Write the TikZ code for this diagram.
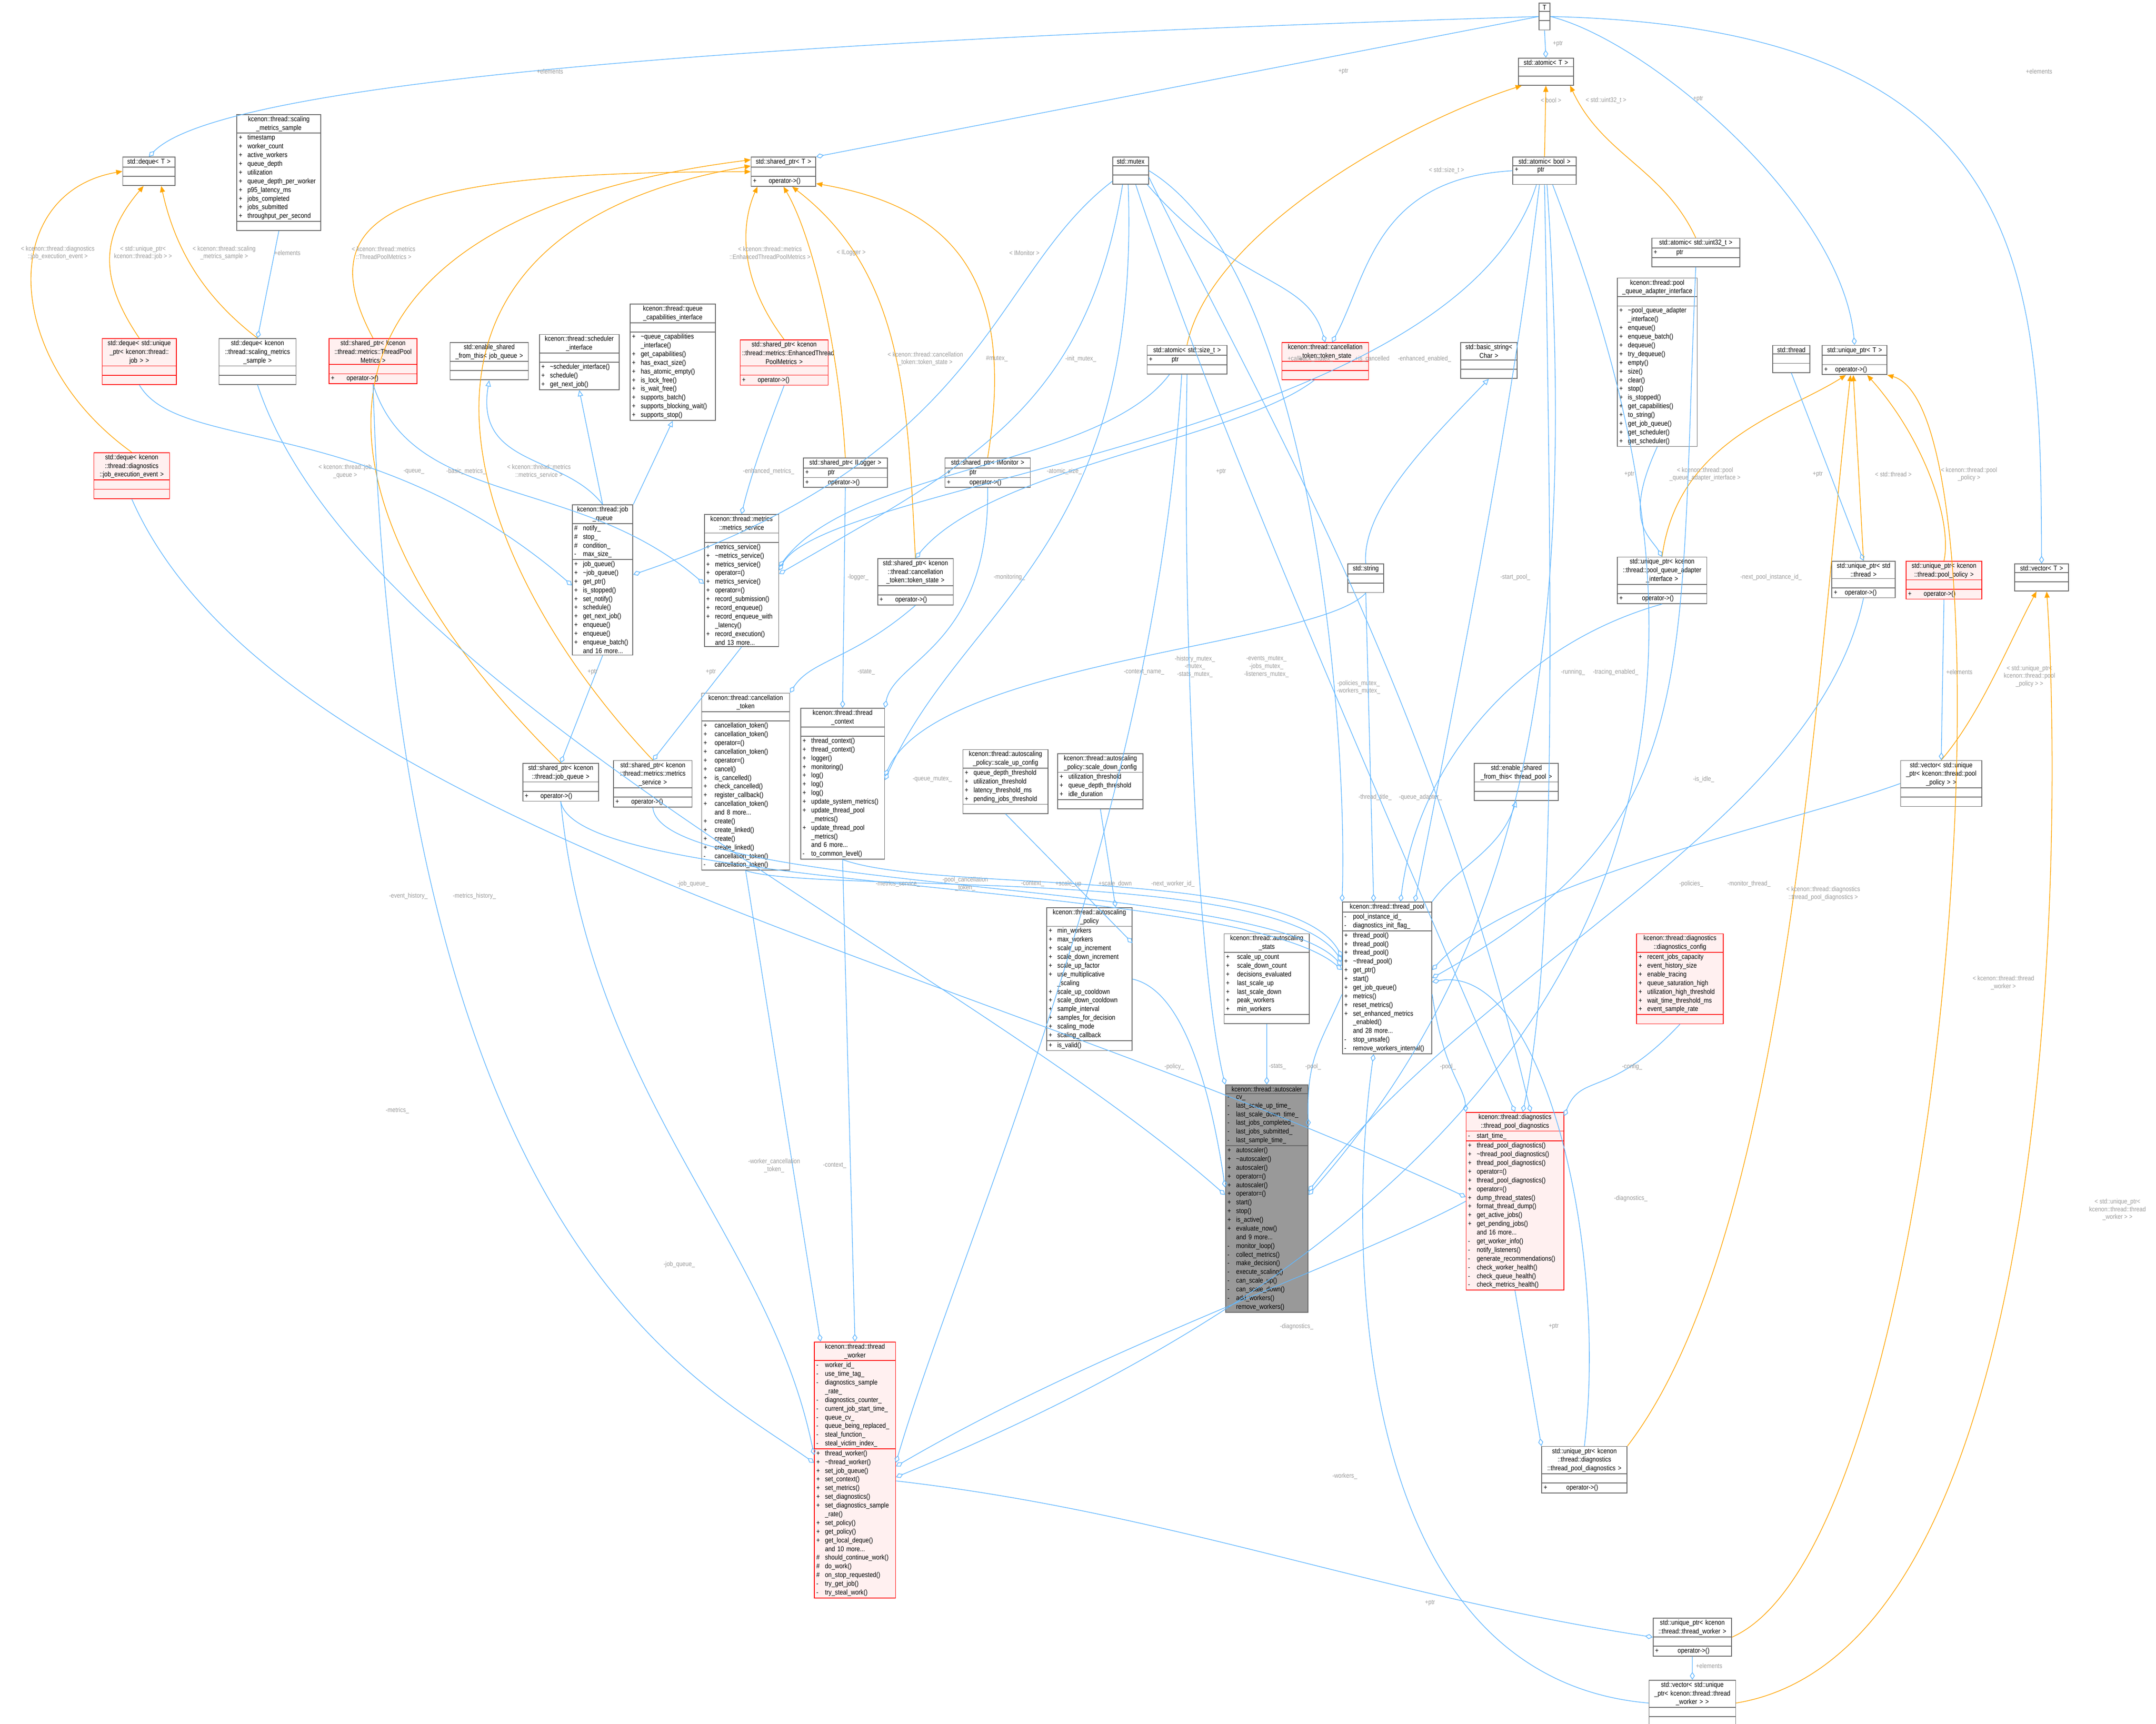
\documentclass[tikz,border=0pt]{standalone}
\usepackage{fontspec}
\setmainfont{Liberation Sans}[FakeStretch=0.86]
\usetikzlibrary{shapes.multipart,arrows.meta}
\definecolor{eb}{HTML}{63B8FF}
\definecolor{eo}{HTML}{FFA500}
\definecolor{lg}{HTML}{9A9A9A}
\definecolor{bd}{HTML}{666666}
\definecolor{rf}{HTML}{FFF0F0}
\newcommand\E{\rule{0pt}{3pt}}
\newcommand\m[2]{\makebox[4.5pt][l]{#1}#2}
\newcommand\ct[1]{\hspace*{4.5pt}#1}
\newcommand\cls[7]{\pgfmathsetmacro\tw{#4*0.025-0.07}%
\node[cls,#1,text width=\tw cm] (#2) at (#3) {\centering #5\par\nodepart{two}#6\par\nodepart{three}#7\par};}
\tikzset{
 x=0.025cm,y=-0.025cm,
 cls/.style={rectangle split,rectangle split parts=3,draw=bd,line width=0.4pt,anchor=north west,
   inner xsep=1pt,inner ysep=0.7pt,font=\fontsize{3.6}{4.5}\selectfont,align=left,fill=white},
 red/.style={draw=red,fill=rf},
 gry/.style={fill=black!40!white},
 agg/.style={draw=eb,line width=0.35pt,-{Diamond[open,length=4pt,width=2.6pt]}},
 tmpl/.style={draw=eo,line width=0.35pt,-{Triangle[length=3.2pt,width=2.6pt]}},
 inh/.style={draw=eb,line width=0.35pt,-{Triangle[open,length=3.2pt,width=2.8pt]}},
 lbl/.style={text=lg,font=\fontsize{3.4}{4}\selectfont,align=center,inner sep=0pt},
}
\begin{document}
\begin{tikzpicture}
\useasboundingbox[fill=white] (0,0) rectangle (1568,1254.2);
% ---------- nodes ----------
\cls{}{T}{1119,2}{8}{T}{\E}{\E}
\cls{}{at}{1104,42}{40}{std::atomic< T >}{\E}{\E}
\cls{}{sp}{546,114}{47}{std::shared\_ptr< T >}{\E}{\m{+}{\quad operator->()}}
\cls{}{mx}{809,114}{26}{std::mutex}{\E}{\E}
\cls{}{ab}{1100,114}{46}{std::atomic< bool >}{\m{+}{\qquad ptr}}{\E}
\cls{}{dq}{89,114}{38}{std::deque< T >}{\E}{\E}
\cls{}{sms}{172,83}{61}{kcenon::thread::scaling\\\_metrics\_sample}{\m{+}{timestamp}\\\m{+}{worker\_count}\\\m{+}{active\_workers}\\\m{+}{queue\_depth}\\\m{+}{utilization}\\\m{+}{queue\_depth\_per\_worker}\\\m{+}{p95\_latency\_ms}\\\m{+}{jobs\_completed}\\\m{+}{jobs\_submitted}\\\m{+}{throughput\_per\_second}}{\E}
\cls{}{au32}{1201,173}{64}{std::atomic< std::uint32\_t >}{\m{+}{\qquad ptr}}{\E}
\cls{}{pqai}{1176,202}{58}{kcenon::thread::pool\\\_queue\_adapter\_interface}{\E}{\m{+}{\textasciitilde pool\_queue\_adapter}\\\ct{\_interface()}\\\m{+}{enqueue()}\\\m{+}{enqueue\_batch()}\\\m{+}{dequeue()}\\\m{+}{try\_dequeue()}\\\m{+}{empty()}\\\m{+}{size()}\\\m{+}{clear()}\\\m{+}{stop()}\\\m{+}{is\_stopped()}\\\m{+}{get\_capabilities()}\\\m{+}{to\_string()}\\\m{+}{get\_job\_queue()}\\\m{+}{get\_scheduler()}\\\m{+}{get\_scheduler()}}
\cls{red}{dqj}{74,246}{54}{std::deque< std::unique\\\_ptr< kcenon::thread::\\job > >}{\E}{\E}
\cls{}{dqs}{159,246}{56}{std::deque< kcenon\\::thread::scaling\_metrics\\\_sample >}{\E}{\E}
\cls{red}{sptpm}{239,246}{64}{std::shared\_ptr< kcenon\\::thread::metrics::ThreadPool\\Metrics >}{\E}{\m{+}{\quad operator->()}}
\cls{}{esj}{327,249}{57}{std::enable\_shared\\\_from\_this< job\_queue >}{\E}{\E}
\cls{}{sch}{392,243}{58}{kcenon::thread::scheduler\\\_interface}{\E}{\m{+}{\textasciitilde scheduler\_interface()}\\\m{+}{schedule()}\\\m{+}{get\_next\_job()}}
\cls{}{qc}{458,221}{62}{kcenon::thread::queue\\\_capabilities\_interface}{\E}{\m{+}{\textasciitilde queue\_capabilities}\\\ct{\_interface()}\\\m{+}{get\_capabilities()}\\\m{+}{has\_exact\_size()}\\\m{+}{has\_atomic\_empty()}\\\m{+}{is\_lock\_free()}\\\m{+}{is\_wait\_free()}\\\m{+}{supports\_batch()}\\\m{+}{supports\_blocking\_wait()}\\\m{+}{supports\_stop()}}
\cls{red}{spe}{538,247}{64}{std::shared\_ptr< kcenon\\::thread::metrics::EnhancedThread\\PoolMetrics >}{\E}{\m{+}{\quad operator->()}}
\cls{}{asz}{834,251}{58}{std::atomic< std::size\_t >}{\m{+}{\qquad ptr}}{\E}
\cls{red}{ts}{932,249}{63}{kcenon::thread::cancellation\\\_token::token\_state}{\E}{\E}
\cls{}{bs}{1062,249}{41}{std::basic\_string<\\Char >}{\E}{\E}
\cls{}{thr}{1289,251}{27}{std::thread}{\E}{\E}
\cls{}{up}{1325,251}{47}{std::unique\_ptr< T >}{\E}{\m{+}{\ operator->()}}
\cls{red}{dqe}{68,329}{55}{std::deque< kcenon\\::thread::diagnostics\\::job\_execution\_event >}{\E}{\E}
\cls{}{spl}{584,333}{61}{std::shared\_ptr< ILogger >}{\m{+}{\qquad ptr}}{\m{+}{\qquad operator->()}}
\cls{}{spm}{687,333}{62}{std::shared\_ptr< IMonitor >}{\m{+}{\qquad ptr}}{\m{+}{\qquad operator->()}}
\cls{}{jq}{416,367}{44}{kcenon::thread::job\\\_queue}{\m{\#}{notify\_}\\\m{\#}{stop\_}\\\m{\#}{condition\_}\\\m{-}{max\_size\_}}{\m{+}{job\_queue()}\\\m{+}{\textasciitilde job\_queue()}\\\m{+}{get\_ptr()}\\\m{+}{is\_stopped()}\\\m{+}{set\_notify()}\\\m{+}{schedule()}\\\m{+}{get\_next\_job()}\\\m{+}{enqueue()}\\\m{+}{enqueue()}\\\m{+}{enqueue\_batch()}\\\ct{and 16 more...}}
\cls{}{ms}{512,374}{54}{kcenon::thread::metrics\\::metrics\_service}{\E}{\m{+}{metrics\_service()}\\\m{+}{\textasciitilde metrics\_service()}\\\m{+}{metrics\_service()}\\\m{+}{operator=()}\\\m{+}{metrics\_service()}\\\m{+}{operator=()}\\\m{+}{record\_submission()}\\\m{+}{record\_enqueue()}\\\m{+}{record\_enqueue\_with}\\\ct{\_latency()}\\\m{+}{record\_execution()}\\\ct{and 13 more...}}
\cls{}{spts}{638,406}{55}{std::shared\_ptr< kcenon\\::thread::cancellation\\\_token::token\_state >}{\E}{\m{+}{\quad operator->()}}
\cls{}{str}{980,410}{26}{std::string}{\E}{\E}
\cls{}{uppq}{1176,405}{65}{std::unique\_ptr< kcenon\\::thread::pool\_queue\_adapter\\\_interface >}{\E}{\m{+}{\qquad operator->()}}
\cls{}{upth}{1332,408}{46}{std::unique\_ptr< std\\::thread >}{\E}{\m{+}{\ operator->()}}
\cls{red}{uppp}{1386,408}{55}{std::unique\_ptr< kcenon\\::thread::pool\_policy >}{\E}{\m{+}{\quad operator->()}}
\cls{}{vec}{1465,410}{39}{std::vector< T >}{\E}{\E}
\cls{}{ctk}{510,504}{64}{kcenon::thread::cancellation\\\_token}{\E}{\m{+}{\ cancellation\_token()}\\\m{+}{\ cancellation\_token()}\\\m{+}{\ operator=()}\\\m{+}{\ cancellation\_token()}\\\m{+}{\ operator=()}\\\m{+}{\ cancel()}\\\m{+}{\ is\_cancelled()}\\\m{+}{\ check\_cancelled()}\\\m{+}{\ register\_callback()}\\\m{+}{\ cancellation\_token()}\\\ct{\ and 8 more...}\\\m{+}{\ create()}\\\m{+}{\ create\_linked()}\\\m{+}{\ create()}\\\m{+}{\ create\_linked()}\\\m{-}{\ cancellation\_token()}\\\m{-}{\ cancellation\_token()}}
\cls{}{tc}{582,515}{61}{kcenon::thread::thread\\\_context}{\E}{\m{+}{thread\_context()}\\\m{+}{thread\_context()}\\\m{+}{logger()}\\\m{+}{monitoring()}\\\m{+}{log()}\\\m{+}{log()}\\\m{+}{log()}\\\m{+}{update\_system\_metrics()}\\\m{+}{update\_thread\_pool}\\\ct{\_metrics()}\\\m{+}{update\_thread\_pool}\\\ct{\_metrics()}\\\ct{and 6 more...}\\\m{-}{to\_common\_level()}}
\cls{}{suc}{700,545}{62}{kcenon::thread::autoscaling\\\_policy::scale\_up\_config}{\m{+}{queue\_depth\_threshold}\\\m{+}{utilization\_threshold}\\\m{+}{latency\_threshold\_ms}\\\m{+}{pending\_jobs\_threshold}}{\E}
\cls{}{sdc}{769,548}{62}{kcenon::thread::autoscaling\\\_policy::scale\_down\_config}{\m{+}{utilization\_threshold}\\\m{+}{queue\_depth\_threshold}\\\m{+}{idle\_duration}}{\E}
\cls{}{esp}{1072,555}{61}{std::enable\_shared\\\_from\_this< thread\_pool >}{\E}{\E}
\cls{}{spjq}{380,555}{55}{std::shared\_ptr< kcenon\\::thread::job\_queue >}{\E}{\m{+}{\quad operator->()}}
\cls{}{spms}{446,553}{57}{std::shared\_ptr< kcenon\\::thread::metrics::metrics\\\_service >}{\E}{\m{+}{\quad operator->()}}
\cls{}{vpp}{1382,553}{59}{std::vector< std::unique\\\_ptr< kcenon::thread::pool\\\_policy > >}{\E}{\E}
\cls{}{pol}{761,660}{62}{kcenon::thread::autoscaling\\\_policy}{\m{+}{min\_workers}\\\m{+}{max\_workers}\\\m{+}{scale\_up\_increment}\\\m{+}{scale\_down\_increment}\\\m{+}{scale\_up\_factor}\\\m{+}{use\_multiplicative}\\\ct{\_scaling}\\\m{+}{scale\_up\_cooldown}\\\m{+}{scale\_down\_cooldown}\\\m{+}{sample\_interval}\\\m{+}{samples\_for\_decision}\\\m{+}{scaling\_mode}\\\m{+}{scaling\_callback}}{\m{+}{is\_valid()}}
\cls{}{tp}{976,656}{65}{kcenon::thread::thread\_pool}{\m{-}{pool\_instance\_id\_}\\\m{-}{diagnostics\_init\_flag\_}}{\m{+}{thread\_pool()}\\\m{+}{thread\_pool()}\\\m{+}{thread\_pool()}\\\m{+}{\textasciitilde thread\_pool()}\\\m{+}{get\_ptr()}\\\m{+}{start()}\\\m{+}{get\_job\_queue()}\\\m{+}{metrics()}\\\m{+}{reset\_metrics()}\\\m{+}{set\_enhanced\_metrics}\\\ct{\_enabled()}\\\ct{and 28 more...}\\\m{-}{stop\_unsafe()}\\\m{-}{remove\_workers\_internal()}}
\cls{}{st}{890,679}{62}{kcenon::thread::autoscaling\\\_stats}{\m{+}{\ scale\_up\_count}\\\m{+}{\ scale\_down\_count}\\\m{+}{\ decisions\_evaluated}\\\m{+}{\ last\_scale\_up}\\\m{+}{\ last\_scale\_down}\\\m{+}{\ peak\_workers}\\\m{+}{\ min\_workers}}{\E}
\cls{red}{dc}{1190,679}{63}{kcenon::thread::diagnostics\\::diagnostics\_config}{\m{+}{recent\_jobs\_capacity}\\\m{+}{event\_history\_size}\\\m{+}{enable\_tracing}\\\m{+}{queue\_saturation\_high}\\\m{+}{utilization\_high\_threshold}\\\m{+}{wait\_time\_threshold\_ms}\\\m{+}{event\_sample\_rate}}{\E}
\cls{gry}{as}{891,789}{60}{kcenon::thread::autoscaler}{\m{-}{cv\_}\\\m{-}{last\_scale\_up\_time\_}\\\m{-}{last\_scale\_down\_time\_}\\\m{-}{last\_jobs\_completed\_}\\\m{-}{last\_jobs\_submitted\_}\\\m{-}{last\_sample\_time\_}}{\m{+}{autoscaler()}\\\m{+}{\textasciitilde autoscaler()}\\\m{+}{autoscaler()}\\\m{+}{operator=()}\\\m{+}{autoscaler()}\\\m{+}{operator=()}\\\m{+}{start()}\\\m{+}{stop()}\\\m{+}{is\_active()}\\\m{+}{evaluate\_now()}\\\ct{and 9 more...}\\\m{-}{monitor\_loop()}\\\m{-}{collect\_metrics()}\\\m{-}{make\_decision()}\\\m{-}{execute\_scaling()}\\\m{-}{can\_scale\_up()}\\\m{-}{can\_scale\_down()}\\\m{-}{add\_workers()}\\\m{-}{remove\_workers()}}
\cls{red}{tpd}{1066,809}{71}{kcenon::thread::diagnostics\\::thread\_pool\_diagnostics}{\m{-}{start\_time\_}}{\m{+}{thread\_pool\_diagnostics()}\\\m{+}{\textasciitilde thread\_pool\_diagnostics()}\\\m{+}{thread\_pool\_diagnostics()}\\\m{+}{operator=()}\\\m{+}{thread\_pool\_diagnostics()}\\\m{+}{operator=()}\\\m{+}{dump\_thread\_states()}\\\m{+}{format\_thread\_dump()}\\\m{+}{get\_active\_jobs()}\\\m{+}{get\_pending\_jobs()}\\\ct{and 16 more...}\\\m{-}{get\_worker\_info()}\\\m{-}{notify\_listeners()}\\\m{-}{generate\_recommendations()}\\\m{-}{check\_worker\_health()}\\\m{-}{check\_queue\_health()}\\\m{-}{check\_metrics\_health()}}
\cls{red}{tw}{592,976}{59}{kcenon::thread::thread\\\_worker}{\m{-}{worker\_id\_}\\\m{-}{use\_time\_tag\_}\\\m{-}{diagnostics\_sample}\\\ct{\_rate\_}\\\m{-}{diagnostics\_counter\_}\\\m{-}{current\_job\_start\_time\_}\\\m{-}{queue\_cv\_}\\\m{-}{queue\_being\_replaced\_}\\\m{-}{steal\_function\_}\\\m{-}{steal\_victim\_index\_}}{\m{+}{thread\_worker()}\\\m{+}{\textasciitilde thread\_worker()}\\\m{+}{set\_job\_queue()}\\\m{+}{set\_context()}\\\m{+}{set\_metrics()}\\\m{+}{set\_diagnostics()}\\\m{+}{set\_diagnostics\_sample}\\\ct{\_rate()}\\\m{+}{set\_policy()}\\\m{+}{get\_policy()}\\\m{+}{get\_local\_deque()}\\\ct{and 10 more...}\\\m{\#}{should\_continue\_work()}\\\m{\#}{do\_work()}\\\m{\#}{on\_stop\_requested()}\\\m{-}{try\_get\_job()}\\\m{-}{try\_steal\_work()}}
\cls{}{upd}{1121,1052}{62}{std::unique\_ptr< kcenon\\::thread::diagnostics\\::thread\_pool\_diagnostics >}{\E}{\m{+}{\qquad operator->()}}
\cls{}{upw}{1202,1177}{57}{std::unique\_ptr< kcenon\\::thread::thread\_worker >}{\E}{\m{+}{\qquad operator->()}}
\cls{}{vw}{1199,1222}{63}{std::vector< std::unique\\\_ptr< kcenon::thread::thread\\\_worker > >}{\E}{\E}
% ---------- template instances ----------
\draw[tmpl] (ab.north) -- (at.south) node[lbl] at (1128,73) {< bool >};
\draw[tmpl] (au32.north) to[out=115,in=-65] (at.-30) node[lbl] at (1168,73) {< std::uint32\_t >};
\draw[tmpl] (asz.north) .. controls (880,170) and (1020,90) .. (at.-150) node[lbl] at (1052,124) {< std::size\_t >};
\draw[tmpl] (dqe.north) .. controls (0,260) and (0,140) .. (dq.west) node[lbl] at (42,184) {< kcenon::thread::diagnostics\\::job\_execution\_event >};
\draw[tmpl] (dqj.north) .. controls (70,200) and (75,170) .. (dq.-110) node[lbl] at (104,184) {< std::unique\_ptr<\\kcenon::thread::job > >};
\draw[tmpl] (dqs.north) .. controls (140,210) and (125,170) .. (dq.-50) node[lbl] at (163,184) {< kcenon::thread::scaling\\\_metrics\_sample >};
\draw[tmpl] (sptpm.north) .. controls (220,150) and (300,125) .. (sp.west) node[lbl] at (279,184) {< kcenon::thread::metrics\\::ThreadPoolMetrics >};
\draw[tmpl] (spe.north) .. controls (535,200) and (540,160) .. (sp.-150) node[lbl] at (560,184) {< kcenon::thread::metrics\\::EnhancedThreadPoolMetrics >};
\draw[tmpl] (spl.north) .. controls (610,250) and (590,170) .. (sp.-90) node[lbl] at (619,184) {< ILogger >};
\draw[tmpl] (spm.north) .. controls (740,200) and (690,150) .. (sp.-20) node[lbl] at (745,184) {< IMonitor >};
\draw[tmpl] (spts.north) .. controls (660,300) and (660,200) .. (sp.-60) node[lbl] at (673,261) {< kcenon::thread::cancellation\\\_token::token\_state >};
\draw[tmpl] (spjq.north) .. controls (210,360) and (200,160) .. (sp.160) node[lbl] at (251,343) {< kcenon::thread::job\\\_queue >};
\draw[tmpl] (spms.north) .. controls (330,400) and (260,170) .. (sp.170) node[lbl] at (392,343) {< kcenon::thread::metrics\\::metrics\_service >};
\draw[tmpl] (uppq.north) .. controls (1220,320) and (1300,300) .. (up.-120) node[lbl] at (1240,345) {< kcenon::thread::pool\\\_queue\_adapter\_interface >};
\draw[tmpl] (upth.north) -- (up.-95) node[lbl] at (1377,345) {< std::thread >};
\draw[tmpl] (uppp.north) .. controls (1420,380) and (1400,320) .. (up.-50) node[lbl] at (1432,345) {< kcenon::thread::pool\\\_policy >};
\draw[tmpl] (upd.north east) .. controls (1300,900) and (1320,500) .. (up.-105) node[lbl] at (1326,650) {< kcenon::thread::diagnostics\\::thread\_pool\_diagnostics >};
\draw[tmpl] (upw.east) .. controls (1420,1120) and (1470,300) .. (up.south east) node[lbl] at (1457,715) {< kcenon::thread::thread\\\_worker >};
\draw[tmpl] (vpp.north) .. controls (1440,520) and (1460,470) .. (vec.-110) node[lbl] at (1476,492) {< std::unique\_ptr<\\kcenon::thread::pool\\\_policy > >};
\draw[tmpl] (vw.east) .. controls (1500,1200) and (1500,600) .. (vec.-70) node[lbl] at (1540,880) {< std::unique\_ptr<\\kcenon::thread::thread\\\_worker > >};
% ---------- inheritance ----------
\draw[inh] (jq.north) .. controls (410,330) and (345,340) .. (esj.south);
\draw[inh] (jq.north) -- (sch.south);
\draw[inh] (jq.north east) -- (qc.south);
\draw[inh] (str.north) .. controls (990,370) and (1040,320) .. (bs.south);
\draw[inh] (tp.north east) .. controls (1060,630) and (1090,620) .. (esp.south);
% ---------- aggregation ----------
\draw[agg] (T.west) .. controls (700,25) and (170,50) .. (dq.north) node[lbl] at (400,52) {+elements};
\draw[agg] (T.west) -- (sp.north east) node[lbl] at (977,52) {+ptr};
\draw[agg] (T.south) -- (at.north) node[lbl] at (1133,32) {+ptr};
\draw[agg] (T.east) .. controls (1200,30) and (1340,150) .. (up.north) node[lbl] at (1235,72) {+ptr};
\draw[agg] (T.east) .. controls (1480,20) and (1484,200) .. (vec.north) node[lbl] at (1483,52) {+elements};
\draw[agg] (sms.south) -- (dqs.north) node[lbl] at (209,184) {+elements};
\draw[agg] (dqj.south) .. controls (130,330) and (270,300) .. (jq.-170) node[lbl] at (301,343) {-queue\_};
\draw[agg] (sptpm.south) .. controls (300,370) and (420,345) .. (ms.-175) node[lbl] at (339,343) {-basic\_metrics\_};
\draw[agg] (spe.south) .. controls (555,320) and (545,350) .. (ms.north) node[lbl] at (559,343) {-enhanced\_metrics\_};
\draw[agg] (mx.-150) .. controls (720,200) and (720,330) .. (jq.10) node[lbl] at (725,261) {\#mutex\_};
\draw[agg] (mx.-120) .. controls (790,300) and (700,340) .. (ms.10) node[lbl] at (786,261) {-init\_mutex\_};
\draw[agg] (mx.-40) .. controls (900,210) and (950,200) .. (ts.north) node[lbl] at (953,261) {+callback\_mutex\_};
\draw[agg] (ab.west) .. controls (1000,130) and (995,200) .. (ts.70) node[lbl] at (998,261) {+is\_cancelled};
\draw[agg] (ab.-120) .. controls (1060,320) and (600,350) .. (ms.15) node[lbl] at (1036,261) {-enhanced\_enabled\_};
\draw[agg] (asz.-140) .. controls (800,340) and (620,340) .. (ms.20) node[lbl] at (774,343) {-atomic\_size\_};
\draw[agg] (ts.-120) .. controls (900,320) and (720,340) .. (spts.north) node[lbl] at (888,343) {+ptr};
\draw[agg] (jq.south) -- (spjq.north) node[lbl] at (431,489) {+ptr};
\draw[agg] (ms.south) -- (spms.north) node[lbl] at (517,489) {+ptr};
\draw[agg] (spl.south) -- (tc.north) node[lbl] at (624,420) {-logger\_};
\draw[agg] (spm.south) .. controls (720,470) and (650,480) .. (tc.north east) node[lbl] at (734,420) {-monitoring\_};
\draw[agg] (spts.south) .. controls (620,480) and (590,480) .. (ctk.north east) node[lbl] at (630,489) {-state\_};
\draw[agg] (str.south) .. controls (960,470) and (680,480) .. (tc.10) node[lbl] at (832,489) {-context\_name\_};
\draw[agg] (mx.-100) .. controls (830,400) and (700,440) .. (tc.5) node[lbl] at (678,567) {-queue\_mutex\_};
\draw[agg] (mx.-70) .. controls (880,300) and (990,550) .. (tpd.north) node[lbl] at (869,485) {-history\_mutex\_\\-mutex\_\\-stats\_mutex\_};
\draw[agg] (mx.-20) .. controls (920,300) and (1040,500) .. (tpd.80) node[lbl] at (921,485) {-events\_mutex\_\\-jobs\_mutex\_\\-listeners\_mutex\_};
\draw[agg] (mx.east) .. controls (960,200) and (980,550) .. (tp.north west) node[lbl] at (988,500) {-policies\_mutex\_\\-workers\_mutex\_};
\draw[agg] (str.south) -- (tp.100) node[lbl] at (1000,580) {-thread\_title\_};
\draw[agg] (uppq.south) .. controls (1100,470) and (1030,560) .. (tp.80) node[lbl] at (1033,580) {-queue\_adapter\_};
\draw[agg] (ab.-110) .. controls (1100,300) and (1060,500) .. (tp.70) node[lbl] at (1102,420) {-start\_pool\_};
\draw[agg] (ab.-90) .. controls (1130,500) and (1130,700) .. (tpd.85) node[lbl] at (1175,489) {-tracing\_enabled\_};
\draw[agg] (ab.-80) .. controls (1150,500) and (1100,700) .. (as.5) node[lbl] at (1144,489) {-running\_};
\draw[agg] (ab.-60) .. controls (1230,400) and (1320,800) .. (tw.-10) node[lbl] at (1239,567) {-is\_idle\_};
\draw[agg] (au32.south) .. controls (1220,500) and (1240,600) .. (tp.east) node[lbl] at (1288,420) {-next\_pool\_instance\_id\_};
\draw[agg] (suc.south) -- (pol.40) node[lbl] at (777,643) {+scale\_up};
\draw[agg] (sdc.south) -- (pol.70) node[lbl] at (811,643) {+scale\_down};
\draw[agg] (asz.-90) .. controls (860,450) and (870,700) .. (as.north west) node[lbl] at (853,643) {-next\_worker\_id\_};
\draw[agg] (asz.-110) .. controls (840,600) and (700,900) .. (tw.10) ;
\draw[agg] (spjq.south) .. controls (420,650) and (900,640) .. (tp.170) node[lbl] at (504,643) {-job\_queue\_};
\draw[agg] (spms.south) .. controls (480,650) and (920,640) .. (tp.165) node[lbl] at (653,643) {-metrics\_service\_};
\draw[agg] (ctk.south) .. controls (590,650) and (930,630) .. (tp.160) node[lbl] at (702,643) {-pool\_cancellation\\\_token\_};
\draw[agg] (tc.south) .. controls (680,650) and (940,630) .. (tp.155) node[lbl] at (751,643) {-context\_};
\draw[agg] (pol.east) .. controls (860,720) and (880,790) .. (as.165) node[lbl] at (854,776) {-policy\_};
\draw[agg] (st.south) -- (as.north) node[lbl] at (929,776) {-stats\_};
\draw[agg] (tp.-160) .. controls (960,760) and (950,770) .. (as.60) node[lbl] at (955,776) {-pool\_};
\draw[agg] (tp.-20) .. controls (1050,780) and (1065,790) .. (tpd.north west) node[lbl] at (1053,776) {-pool\_};
\draw[agg] (dc.south) .. controls (1170,800) and (1150,780) .. (tpd.60) node[lbl] at (1187,776) {-config\_};
\draw[agg] (upd.north) .. controls (1170,900) and (1120,700) .. (tp.-5) node[lbl] at (1186,872) {-diagnostics\_};
\draw[agg] (tpd.west) .. controls (980,920) and (800,980) .. (tw.5) node[lbl] at (943,965) {-diagnostics\_};
\draw[agg] (tpd.south) -- (upd.north west) node[lbl] at (1130,965) {+ptr};
\draw[agg] (vw.west) .. controls (980,1220) and (980,900) .. (tp.-100) node[lbl] at (978,1074) {-workers\_};
\draw[agg] (tw.-15) .. controls (850,1100) and (1000,1160) .. (upw.west) node[lbl] at (1040,1166) {+ptr};
\draw[agg] (upw.south) -- (vw.north) node[lbl] at (1243,1212) {+elements};
\draw[agg] (dqe.south) .. controls (200,600) and (700,700) .. (tpd.175) node[lbl] at (297,652) {-event\_history\_};
\draw[agg] (dqs.south) .. controls (260,500) and (700,700) .. (as.175) node[lbl] at (345,652) {-metrics\_history\_};
\draw[agg] (sptpm.south) .. controls (290,900) and (500,1000) .. (tw.170) node[lbl] at (289,808) {-metrics\_};
\draw[agg] (spjq.south) .. controls (430,800) and (560,900) .. (tw.160) node[lbl] at (494,920) {-job\_queue\_};
\draw[agg] (ctk.south) -- (tw.105) node[lbl] at (563,848) {-worker\_cancellation\\\_token\_};
\draw[agg] (tc.south) -- (tw.90) node[lbl] at (607,848) {-context\_};
\draw[agg] (pqai.south) .. controls (1180,380) and (1200,390) .. (uppq.north) node[lbl] at (1185,345) {+ptr};
\draw[agg] (thr.south) -- (upth.north) node[lbl] at (1322,345) {+ptr};
\draw[agg] (uppp.south) -- (vpp.north) node[lbl] at (1425,489) {+elements};
\draw[agg] (vpp.west) .. controls (1300,600) and (1100,640) .. (tp.10) node[lbl] at (1230,643) {-policies\_};
\draw[agg] (upth.south) .. controls (1320,600) and (1080,700) .. (as.10) node[lbl] at (1272,643) {-monitor\_thread\_};
\end{tikzpicture}
\end{document}
